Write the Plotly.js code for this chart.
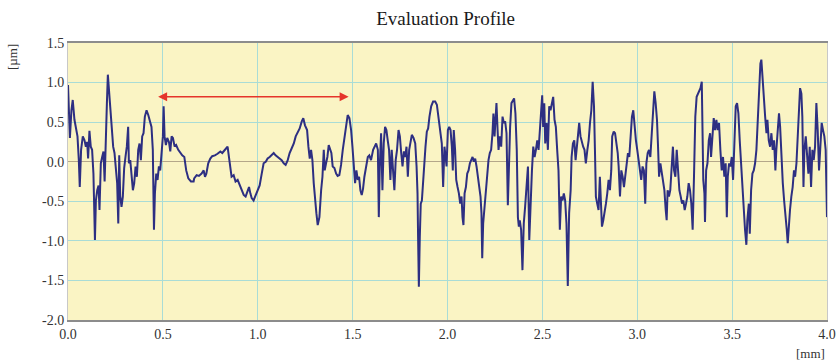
<!DOCTYPE html>
<html>
<head>
<meta charset="utf-8">
<script src="https://cdn.plot.ly/plotly-3.0.1.min.js"></script>
<style>html,body{margin:0;padding:0;background:#fff;}#chart{width:836px;height:364px;}</style>
</head>
<body>
<div id="chart"></div>
<script>
// Profile data: distance [mm] and height [µm], in segments
const dist1 = [0.000,0.010,0.018,0.025,0.034,0.043,0.050,0.057,0.062,0.069,0.078,0.087,0.094,0.101,0.106,0.113,0.120,0.127,0.134,0.142,0.147,0.154,0.161,0.166,0.173,0.180,0.187,0.193,0.198,0.205,0.210,0.217,0.224,0.231,0.238,0.245,0.252,0.259,0.265,0.270,0.275,0.282,0.289,0.296,0.303,0.310,0.317,0.321,0.328,0.335,0.342,0.349,0.356,0.363,0.370,0.377,0.384,0.391,0.398,0.405,0.414,0.423,0.433,0.440,0.447,0.453,0.458,0.465,0.472,0.479,0.486,0.493,0.500,0.504,0.509,0.516,0.523,0.532,0.539,0.546,0.553,0.562,0.570,0.581,0.592,0.602,0.613,0.623,0.634,0.648,0.662];
const height1 = [0.97,0.30,0.65,0.78,0.53,0.42,0.32,0.02,-0.32,0.15,0.32,0.27,0.19,0.25,0.04,0.39,0.19,0.15,-0.15,-0.99,-0.49,-0.36,-0.30,-0.61,-0.02,0.06,0.13,-0.25,0.32,0.74,1.10,0.86,0.65,0.36,0.19,0.11,-0.11,-0.27,-0.78,0.08,-0.43,-0.57,-0.44,-0.08,0.06,0.19,0.44,-0.02,0.02,-0.19,-0.36,-0.27,-0.06,-0.19,0.15,0.23,0.02,0.32,0.36,0.57,0.65,0.59,0.51,0.44,0.15,-0.86,-0.40,-0.15,-0.23,-0.06,-0.11,0.06,0.32,0.70,0.32,0.21,0.30,0.25,0.13,0.32,0.30,0.19,0.21,0.15,0.11,0.08,0.06,-0.11,-0.21,-0.25,-0.25];

const dist2 = [0.665,0.678,0.690,0.704,0.715,0.722,0.729,0.739,0.750,0.760,0.774,0.788,0.803,0.813,0.824,0.834,0.841,0.848,0.855,0.862,0.873,0.883,0.894,0.905,0.915,0.926,0.936,0.947,0.954,0.961,0.968,0.978,0.989,1.000,1.010,1.021,1.031,1.042,1.052,1.063,1.073,1.084,1.094,1.105,1.115,1.126,1.137,1.147,1.158,1.168,1.179,1.190,1.200,1.211,1.221,1.232,1.240,1.249,1.260,1.267,1.274,1.281,1.288,1.295,1.302,1.309,1.316];
const height2 = [-0.21,-0.17,-0.18,-0.15,-0.11,-0.19,-0.15,-0.02,0.04,0.07,0.08,0.10,0.13,0.11,0.15,0.17,0.19,0.06,-0.11,-0.19,-0.17,-0.25,-0.23,-0.30,-0.36,-0.42,-0.44,-0.38,-0.32,-0.40,-0.46,-0.49,-0.42,-0.36,-0.30,-0.15,-0.02,0.00,0.04,0.06,0.08,0.11,0.08,0.06,0.04,0.02,-0.02,-0.04,0.02,0.11,0.17,0.23,0.32,0.38,0.42,0.51,0.55,0.46,0.40,0.19,0.04,0.15,0.02,-0.27,-0.53,-0.65,-0.80];

const dist3 = [1.325,1.334,1.341,1.348,1.353,1.360,1.367,1.374,1.381,1.388,1.395,1.404,1.413,1.421,1.430,1.439,1.448,1.457,1.465,1.474,1.483,1.492,1.499,1.506,1.513,1.520,1.527,1.534,1.541,1.548,1.555,1.562,1.571,1.580,1.588,1.597,1.608,1.615,1.624,1.633,1.638,1.643,1.650,1.657,1.664,1.671,1.678,1.685,1.692,1.699,1.706,1.713,1.720,1.727,1.734,1.742,1.749,1.756,1.763,1.770,1.777,1.784,1.791,1.798,1.805,1.812,1.821,1.830,1.837,1.842,1.845,1.849,1.854,1.859,1.865,1.870,1.877,1.884,1.891,1.898,1.905,1.914,1.924,1.935,1.944,1.952,1.961,1.970,1.977,1.984];
const height3 = [-0.70,-0.36,-0.19,0.15,-0.11,-0.02,0.06,0.21,0.17,0.11,-0.06,-0.08,-0.15,-0.18,-0.17,-0.04,0.15,0.30,0.44,0.59,0.55,0.40,0.19,-0.11,-0.27,-0.11,-0.23,-0.19,-0.36,-0.42,-0.34,-0.19,-0.06,0.06,0.08,0.02,0.15,0.19,0.23,0.15,-0.70,-0.06,0.36,-0.36,0.23,0.44,0.40,0.27,0.15,-0.23,0.15,-0.11,-0.36,0.02,0.15,0.40,0.32,0.11,-0.06,0.13,0.06,0.19,-0.19,0.15,0.27,0.34,0.30,0.23,-0.06,-0.40,-0.95,-1.58,-0.95,-0.53,-0.49,-0.27,-0.06,0.19,0.38,0.42,0.57,0.70,0.76,0.76,0.72,0.57,0.40,0.23,-0.32,0.19];

const dist4 = [1.988,1.995,2.002,2.009,2.016,2.023,2.028,2.033,2.040,2.046,2.053,2.060,2.067,2.074,2.079,2.084,2.090,2.097,2.104,2.111,2.118,2.125,2.132,2.139,2.146,2.153,2.160,2.167,2.174,2.179,2.183,2.188,2.195,2.202,2.209,2.216,2.223,2.230,2.237,2.242,2.248,2.253,2.258,2.264,2.269,2.276,2.283,2.290,2.297,2.304,2.311,2.318,2.323,2.330,2.337,2.344,2.351,2.358,2.365,2.371,2.376,2.381,2.388,2.395,2.402,2.409,2.416,2.424,2.431,2.438,2.445,2.452,2.459,2.466,2.473,2.480,2.487,2.494,2.499,2.504,2.510,2.515,2.522,2.529,2.536,2.543,2.550,2.557,2.564,2.571,2.578,2.585,2.592,2.599,2.606,2.613,2.620,2.627,2.634,2.641];
const height4 = [0.11,-0.06,0.40,0.44,0.40,0.19,-0.11,0.40,0.15,-0.23,-0.32,-0.40,-0.53,-0.44,-0.70,-0.80,-0.40,-0.32,-0.15,-0.11,-0.02,0.02,0.06,0.00,0.04,-0.06,-0.19,-0.27,-0.44,-0.65,-1.22,-0.78,-0.57,-0.36,-0.19,0.02,0.11,0.15,0.36,0.61,0.32,0.53,0.74,0.40,0.15,0.32,0.19,0.57,0.49,0.51,0.36,-0.55,0.06,0.44,0.74,0.78,0.80,0.61,0.15,-0.70,-0.82,-0.74,-0.86,-1.37,-0.78,-0.57,-0.36,-0.06,-0.99,-0.40,-0.11,0.19,0.06,0.15,0.27,0.15,0.44,0.57,0.84,0.44,0.74,0.23,0.49,0.15,0.70,0.65,0.74,0.82,0.53,0.44,0.15,-0.11,-0.86,-0.44,-0.49,-0.40,-0.49,-0.78,-1.57,-0.65];

const dist5 = [2.649,2.654,2.661,2.668,2.675,2.680,2.687,2.694,2.701,2.708,2.715,2.722,2.729,2.737,2.744,2.751,2.758,2.765,2.772,2.777,2.782,2.789,2.796,2.803,2.809,2.814,2.821,2.828,2.835,2.842,2.849,2.856,2.863,2.868,2.876,2.883,2.890,2.897,2.902,2.909,2.916,2.923,2.930,2.937,2.944,2.951,2.958,2.965,2.972,2.979,2.986,2.993,3.000,3.007,3.014,3.021,3.028,3.035,3.042,3.048,3.055,3.062,3.069,3.076,3.083,3.090,3.097,3.104,3.109,3.115,3.122,3.129,3.136,3.143,3.150,3.155,3.160,3.167,3.174,3.181,3.188,3.194,3.201,3.208,3.215,3.222,3.229,3.236,3.243,3.250,3.257,3.264,3.271,3.278,3.285,3.292,3.299,3.306,3.313,3.320];
const height5 = [-0.36,0.06,0.23,0.27,0.02,0.15,0.23,0.49,0.32,0.23,0.19,0.15,-0.02,0.15,0.27,0.49,0.65,1.01,0.70,0.15,-0.44,-0.53,-0.61,-0.19,-0.70,-0.82,-0.74,-0.65,-0.53,-0.40,-0.23,-0.36,-0.11,0.32,0.38,0.36,0.23,0.11,-0.06,-0.44,-0.11,-0.19,-0.32,-0.15,0.02,0.11,0.06,0.36,0.57,0.65,0.44,0.27,0.15,0.02,-0.11,-0.23,-0.06,-0.11,-0.53,-0.02,0.11,0.15,0.06,0.32,0.65,0.89,0.74,0.53,0.23,-0.19,-0.02,-0.15,-0.27,-0.36,-0.61,-0.74,-0.36,-0.44,-0.36,-0.06,0.19,-0.11,-0.19,0.15,-0.19,-0.36,-0.44,-0.53,-0.49,-0.61,-0.53,-0.44,-0.27,-0.36,-0.53,-0.86,-0.19,0.57,0.82,0.86];

const dist6 = [3.326,3.333,3.340,3.343,3.348,3.354,3.357,3.363,3.370,3.377,3.384,3.389,3.396,3.403,3.410,3.417,3.424,3.431,3.438,3.445,3.452,3.459,3.466,3.472,3.477,3.484,3.491,3.498,3.505,3.512,3.519,3.526,3.533,3.540,3.547,3.554,3.561,3.568,3.575,3.580,3.588,3.593,3.600,3.607,3.614,3.621,3.628,3.635,3.642,3.649,3.654,3.659,3.667,3.674,3.681,3.686,3.693,3.700,3.707,3.714,3.721,3.728,3.733,3.740,3.747,3.753,3.760,3.767,3.774,3.781,3.788,3.793,3.798,3.805,3.812,3.819,3.826,3.832,3.839,3.846,3.853,3.858,3.865,3.870,3.876,3.881,3.888,3.895,3.902,3.909,3.916,3.923,3.930,3.937,3.944,3.951,3.958,3.965,3.972,3.979,3.986,3.993,4.000];
const height6 = [0.91,0.93,1.01,0.57,-0.23,-0.40,-0.76,-0.11,-0.02,0.27,0.36,0.06,0.32,0.55,0.40,0.53,0.40,0.49,0.15,-0.11,0.06,-0.19,-0.02,-0.70,-0.19,-0.02,-0.06,0.06,-0.23,0.19,0.70,0.74,0.61,0.27,-0.02,-0.36,-0.53,-0.86,-1.05,-0.74,-0.53,-0.91,-0.36,-0.15,-0.11,-0.02,0.15,0.57,0.99,1.24,1.29,1.08,0.82,0.57,0.36,0.53,0.27,0.19,0.36,0.15,0.27,-0.11,0.15,0.40,0.61,0.44,0.02,-0.27,-0.49,-0.65,-0.86,-1.03,-0.78,-0.61,-0.44,-0.32,-0.11,-0.19,-0.02,0.40,0.74,0.93,0.86,0.57,-0.32,0.15,0.32,0.06,-0.15,0.19,-0.32,0.15,0.02,0.19,0.74,0.40,-0.11,0.19,0.49,0.40,0.32,0.15,-0.70];

// Tick labels
const xTickVals = [0, 0.5, 1.0, 1.5, 2.0, 2.5, 3.0, 3.5, 4.0];
const xTickText = ['0.0','0.5','1.0','1.5','2.0','2.5','3.0','3.5','4.0'];
const yTickVals = [1.5, 1.0, 0.5, 0.0, -0.5, -1.0, -1.5, -2.0];
const yTickText = ['1.5','1.0','0.5','0.0','-0.5','-1.0','-1.5','-2.0'];

// Evaluation-length arrow (mm) and its height (µm)
const arrowStart = 0.467;
const arrowEnd = 1.479;
const arrowLevel = 0.82;

const dist = [].concat(dist1, dist2, dist3, dist4, dist5, dist6);
const height = [].concat(height1, height2, height3, height4, height5, height6);

const serif = '"Liberation Serif", "DejaVu Serif", serif';

const trace = {
  x: dist, y: height, type: 'scatter', mode: 'lines',
  line: {color: '#2D2F82', width: 2},
  hoverinfo: 'skip'
};

const layout = {
  width: 836, height: 364,
  margin: {l: 68, r: 9, t: 43, b: 44},
  paper_bgcolor: '#ffffff',
  plot_bgcolor: '#FAF4C4',
  showlegend: false,
  title: {
    text: 'Evaluation Profile',
    font: {family: serif, size: 19, color: '#1a1a1a'},
    x: 0.533, xanchor: 'center',
    y: 0.95, yref: 'container', yanchor: 'middle'
  },
  xaxis: {
    range: [0, 4],
    tickvals: xTickVals, ticktext: xTickText,
    showgrid: true, gridcolor: '#A9DCD6', gridwidth: 1,
    zeroline: false,
    showline: true, mirror: true, linecolor: '#8C8C8C', linewidth: 2,
    ticks: '', ticklen: 0,
    tickfont: {family: serif, size: 14, color: '#333'},
    fixedrange: true
  },
  yaxis: {
    range: [-2, 1.5],
    tickvals: yTickVals, ticktext: yTickText,
    showgrid: true, gridcolor: '#A9DCD6', gridwidth: 1,
    zeroline: true, zerolinecolor: '#B4A78A', zerolinewidth: 1.5,
    showline: true, mirror: true, linecolor: '#C8C8C8', linewidth: 1,
    ticks: '', ticklen: 0,
    tickfont: {family: serif, size: 14, color: '#333'},
    fixedrange: true
  },
  annotations: [
    {
      xref: 'x', yref: 'y', x: arrowEnd, y: arrowLevel,
      axref: 'x', ayref: 'y', ax: arrowStart, ay: arrowLevel,
      text: '', showarrow: true, arrowside: 'end+start',
      arrowhead: 2, arrowsize: 1.2, arrowwidth: 1.5, arrowcolor: '#E5352B'
    },
    {
      xref: 'paper', yref: 'paper', x: 0, y: 1,
      xshift: -56, yshift: -14,
      text: '[µm]', showarrow: false, textangle: -90,
      font: {family: serif, size: 13, color: '#333'},
      xanchor: 'center', yanchor: 'middle'
    },
    {
      xref: 'paper', yref: 'paper', x: 1, y: 0,
      xshift: 0, yshift: -33,
      text: '[mm]', showarrow: false,
      font: {family: serif, size: 13, color: '#333'},
      xanchor: 'right', yanchor: 'middle'
    }
  ]
};

Plotly.newPlot('chart', [trace], layout, {staticPlot: true, displayModeBar: false});
</script>
</body>
</html>
